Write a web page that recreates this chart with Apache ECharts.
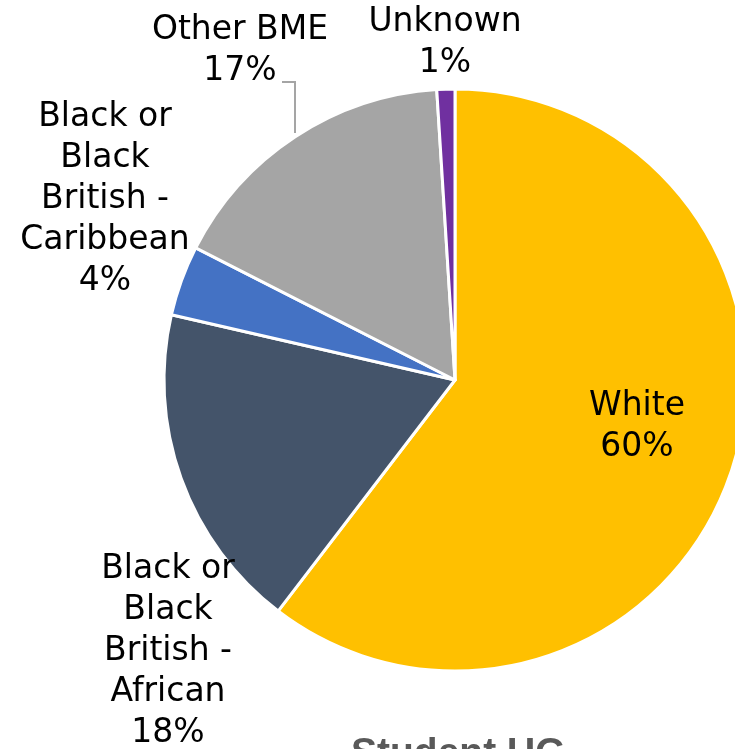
<!DOCTYPE html>
<html>
<head>
<meta charset="utf-8">
<script src="https://cdn.jsdelivr.net/npm/echarts@6/dist/echarts.min.js"></script>
<style>
  html, body { margin: 0; padding: 0; background: #fff; }
  #chart { width: 735px; height: 749px; }
</style>
</head>
<body>
<div id="chart"></div>
<script>
// categories clockwise from 12 o'clock
var categories = ['White', 'Black or\nBlack\nBritish -\nAfrican', 'Black or\nBlack\nBritish -\nCaribbean', 'Other BME', 'Unknown'];
var values = [60.4, 18.2, 3.9, 16.5, 1.0];
var colors = ['#FFC000', '#44546A', '#4472C4', '#A5A5A5', '#7030A0'];

// label centres (x, y) for each slice
var labelPos = [[637, 427], [168, 651], [105, 199], [240, 51], [445, 43]];

var chart = echarts.init(document.getElementById('chart'));

var option = {
  animation: false,
  title: {
    text: 'Student UG',
    left: 351,
    top: 735,
    padding: 0,
    textStyle: { fontFamily: 'Liberation Sans', fontSize: 39, fontWeight: 'bold', color: '#595959' }
  },
  series: [
    {
      type: 'pie',
      center: [455, 380],
      radius: 291,
      startAngle: 90,
      clockwise: true,
      data: categories.map(function (c, i) {
        return { name: c, value: values[i], itemStyle: { color: colors[i] } };
      }),
      itemStyle: { borderColor: '#fff', borderWidth: 3 },
      label: {
        show: true,
        formatter: function (p) { return p.name + '\n' + Math.round(p.value) + '%'; },
        fontFamily: 'DejaVu Sans',
        fontSize: 33,
        lineHeight: 41,
        color: '#000',
        align: 'center',
        overflow: 'none'
      },
      labelLine: { show: false },
      labelLayout: function (params) {
        var p = labelPos[params.dataIndex];
        var res = { x: p[0], y: p[1], align: 'center', verticalAlign: 'middle', width: 260 };
        if (params.dataIndex === 3) {
          res.labelLinePoints = [[282, 82], [295, 82], [295, 133]];
        }
        return res;
      },
      emphasis: { disabled: true }
    }
  ]
};

// leader line only for Other BME
option.series[0].data[3].labelLine = { show: true, lineStyle: { color: '#A5A5A5', width: 2 } };

chart.setOption(option);
</script>
</body>
</html>
